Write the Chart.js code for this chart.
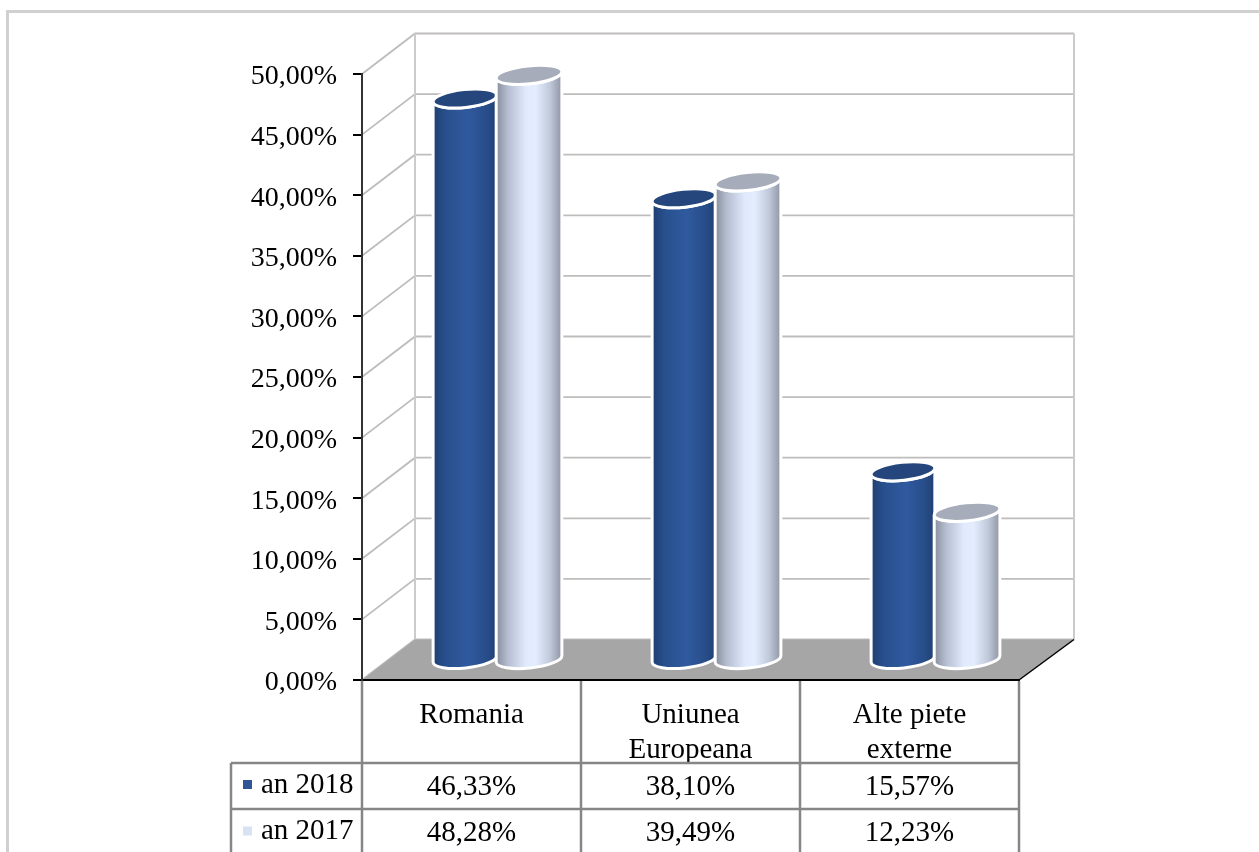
<!DOCTYPE html>
<html lang="ro">
<head>
<meta charset="utf-8">
<title>Piete</title>
<script src="https://cdn.jsdelivr.net/npm/chart.js@4"></script>
<style>
    html, body { margin: 0; padding: 0; background: #fff; overflow: hidden; }
    canvas { display: block; }
</style>
</head>
<body>
<canvas id="marketChart" width="1259" height="852"></canvas>
<script>
const categories = [['Romania'], ['Uniunea', 'Europeana'], ['Alte piete', 'externe']];
const seriesNames = ['an 2018', 'an 2017'];
const values2018 = [46.33, 38.10, 15.57];
const values2017 = [48.28, 39.49, 12.23];

const FONT = "'Liberation Serif', 'Times New Roman', serif";
const DEPTH_X = 53;
const DEPTH_Y = 40.5;
const BAR_SHIFT_X = 25.5;
const BAR_SHIFT_Y = 20;
const TABLE_ROWS = [763, 809];
const LEGEND_LEFT = 231;

function percentText(value) {
    return value.toFixed(2).replace('.', ',') + '%';
}

// Frame, side wall, back wall and floor, all hung on the value scale
const wallsPlugin = {
    id: 'walls',
    beforeDraw(chart) {
        const ctx = chart.ctx;
        const { left, right, bottom } = chart.chartArea;
        const yScale = chart.scales.y;
        const backLeft = left + DEPTH_X;
        const backRight = right + DEPTH_X + 2;
        const backTop = yScale.getPixelForValue(50) - DEPTH_Y;
        const backBottom = bottom - DEPTH_Y;

        ctx.save();
        ctx.fillStyle = '#fff';
        ctx.fillRect(0, 0, chart.width, chart.height);

        ctx.fillStyle = '#d0d0d0';
        ctx.fillRect(6, 10, chart.width - 6, 3);
        ctx.fillRect(6, 10, 3, chart.height - 10);

        // Grid lines
        ctx.lineWidth = 1.8;
        ctx.strokeStyle = '#bfbcbc';
        yScale.ticks.forEach(tick => {
            const y = yScale.getPixelForValue(tick.value);
            ctx.beginPath();
            ctx.moveTo(left, y);
            ctx.lineTo(backLeft, y - DEPTH_Y);
            ctx.lineTo(backRight, y - DEPTH_Y);
            ctx.stroke();
        });

        // Back wall edges
        ctx.strokeStyle = '#cbcbcb';
        ctx.lineWidth = 2;
        ctx.beginPath();
        ctx.moveTo(backLeft, backBottom);
        ctx.lineTo(backLeft, backTop);
        ctx.moveTo(backRight, backTop);
        ctx.lineTo(backRight, backBottom);
        ctx.stroke();

        // Floor
        ctx.fillStyle = '#a6a6a6';
        ctx.beginPath();
        ctx.moveTo(left, bottom);
        ctx.lineTo(backLeft, backBottom);
        ctx.lineTo(backRight, backBottom);
        ctx.lineTo(right, bottom);
        ctx.closePath();
        ctx.fill();

        ctx.strokeStyle = '#000';
        ctx.lineWidth = 1.5;
        ctx.beginPath();
        ctx.moveTo(right, bottom);
        ctx.lineTo(backRight, backBottom);
        ctx.stroke();
        ctx.restore();
    },
};

// The bars are drawn as cylinders from the positions Chart.js computed
const cylinderPlugin = {
    id: 'cylinders',
    beforeDatasetsDraw(chart) {
        const ctx = chart.ctx;
        const tilt = -0.105;
        const radiusY = 9;
        const shades = [
            { grow: 0, stops: [[0, '#1f3e6f'], [0.2, '#28508e'], [0.55, '#305a9f'], [0.85, '#274c88'], [1, '#203f70']], top: '#24467c' },
            { grow: 1, stops: [[0, '#868d9b'], [0.18, '#b5bed0'], [0.45, '#e0eafc'], [0.6, '#e3edfe'], [0.82, '#c0c9da'], [1, '#8d93a1']], top: '#a6acba' },
        ];

        chart.data.datasets.forEach((dataset, i) => {
            chart.getDatasetMeta(i).data.forEach(bar => {
                const radiusX = bar.width / 2 + shades[i].grow;
                const cx = bar.x + BAR_SHIFT_X;
                const topY = bar.y - BAR_SHIFT_Y;
                const baseY = bar.base - BAR_SHIFT_Y;
                const endX = radiusX * Math.cos(tilt);
                const endY = radiusX * Math.sin(tilt);

                const gradient = ctx.createLinearGradient(cx - radiusX, 0, cx + radiusX, 0);
                shades[i].stops.forEach(stop => gradient.addColorStop(stop[0], stop[1]));

                ctx.save();
                ctx.beginPath();
                ctx.moveTo(cx - endX, topY - endY);
                ctx.lineTo(cx - endX, baseY - endY);
                ctx.ellipse(cx, baseY, radiusX, radiusY, tilt, Math.PI, 0, true);
                ctx.lineTo(cx + endX, topY + endY);
                ctx.ellipse(cx, topY, radiusX, radiusY, tilt, 0, Math.PI);
                ctx.closePath();
                ctx.fillStyle = gradient;
                ctx.fill();
                ctx.strokeStyle = '#fff';
                ctx.lineWidth = 3;
                ctx.stroke();

                ctx.beginPath();
                ctx.ellipse(cx, topY, radiusX, radiusY, tilt, 0, Math.PI * 2);
                ctx.fillStyle = shades[i].top;
                ctx.fill();
                ctx.stroke();
                ctx.restore();
            });
        });
        return false;
    },
};

// Data table under the axis
const tablePlugin = {
    id: 'dataTable',
    afterDraw(chart) {
        const ctx = chart.ctx;
        const { left, right, bottom } = chart.chartArea;
        const band = (right - left) / categories.length;
        const rows = [TABLE_ROWS[0], TABLE_ROWS[1], 856];

        ctx.save();
        ctx.strokeStyle = '#868686';
        ctx.lineWidth = 2.5;
        ctx.beginPath();
        for (let c = 0; c <= categories.length; c++) {
            ctx.moveTo(left + band * c, bottom + 1);
            ctx.lineTo(left + band * c, chart.height);
        }
        ctx.moveTo(LEGEND_LEFT, TABLE_ROWS[0]);
        ctx.lineTo(LEGEND_LEFT, chart.height);
        TABLE_ROWS.forEach(y => {
            ctx.moveTo(LEGEND_LEFT, y);
            ctx.lineTo(right, y);
        });
        ctx.stroke();

        ctx.font = '29px ' + FONT;
        ctx.fillStyle = '#000';
        ctx.textBaseline = 'middle';
        const rowValues = [values2018, values2017];
        const markerColors = ['#2f5597', '#d9e2f3'];
        rowValues.forEach((values, r) => {
            const midY = (rows[r] + rows[r + 1]) / 2 + 1;
            ctx.textAlign = 'center';
            values.forEach((value, c) => {
                ctx.fillText(percentText(value), left + band * (c + 0.5), midY);
            });
            ctx.textAlign = 'left';
            ctx.fillText(seriesNames[r], 261, midY - 2);
            ctx.save();
            ctx.fillStyle = markerColors[r];
            ctx.fillRect(243, midY - 7, 9, 9);
            ctx.restore();
        });
        ctx.restore();
    },
};

new Chart(document.getElementById('marketChart'), {
    type: 'bar',
    data: {
        labels: categories,
        datasets: [
            { label: seriesNames[0], data: values2018, backgroundColor: '#2f5597' },
            { label: seriesNames[1], data: values2017, backgroundColor: '#d9e2f3' },
        ],
    },
    options: {
        responsive: false,
        animation: false,
        events: [],
        categoryPercentage: 0.585,
        barPercentage: 1,
        layout: { padding: { top: 74, right: 240, left: 0, bottom: 0 } },
        plugins: { legend: { display: false }, tooltip: { enabled: false }, title: { display: false } },
        scales: {
            x: {
                afterFit(scale) { scale.height = 172; },
                grid: { display: false },
                border: { color: '#000', width: 2 },
                ticks: { color: '#000', padding: 10, maxRotation: 0, autoSkip: false, font: { family: FONT, size: 29 } },
            },
            y: {
                min: 0,
                max: 50,
                afterFit(scale) { scale.width = 362; },
                grid: { drawOnChartArea: false, color: '#000', lineWidth: 2, tickLength: 9 },
                border: { color: '#333', width: 2 },
                ticks: {
                    stepSize: 5,
                    color: '#000',
                    padding: 16,
                    labelOffset: 3,
                    font: { family: FONT, size: 28 },
                    callback: value => percentText(value),
                },
            },
        },
    },
    plugins: [wallsPlugin, cylinderPlugin, tablePlugin],
});
</script>
</body>
</html>
